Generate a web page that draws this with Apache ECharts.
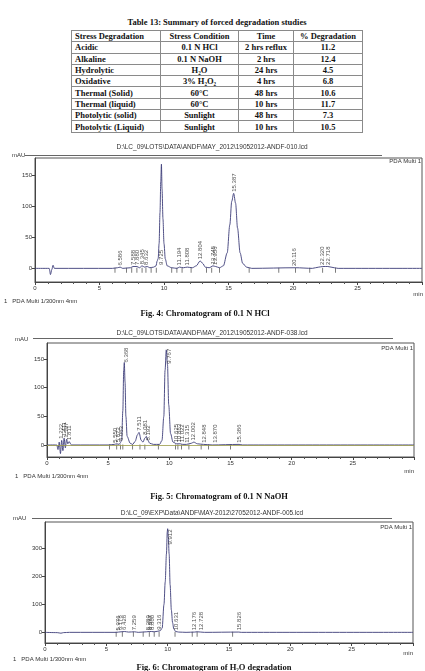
<!DOCTYPE html>
<html>
<head>
<meta charset="utf-8">
<script src="https://cdn.jsdelivr.net/npm/echarts@6/dist/echarts.min.js"></script>
<style>
  body { margin: 0; background: #fff; }
  #chart { position: absolute; left: 0; top: 0; width: 425px; height: 671px; }
  #tblTitle { position: absolute; left: 0; top: 17px; width: 434px; text-align: center;
    font: bold 8.5px "Liberation Serif", "Times New Roman", serif; color: #111; }
  #tbl { position: absolute; left: 71px; top: 30px; width: 291px; border-collapse: collapse;
    table-layout: fixed; font: bold 8.5px "Liberation Serif", "Times New Roman", serif; color: #111; }
  #tbl td, #tbl th { border: 1px solid #8a8a8a; height: 10.3px; padding: 0 3px; line-height: 10px;
    white-space: nowrap; overflow: hidden; }
  #tbl th { font-weight: bold; text-align: center; }
  #tbl td { text-align: center; }
  #tbl td:first-child, #tbl th:first-child { text-align: left; }
</style>
</head>
<body>
<div id="tblTitle">Table 13: Summary of forced degradation studies</div>
<table id="tbl">
  <colgroup><col style="width:89px"><col style="width:78px"><col style="width:55px"><col style="width:69px"></colgroup>
  <thead><tr><th>Stress Degradation</th><th>Stress Condition</th><th>Time</th><th>% Degradation</th></tr></thead>
  <tbody id="tblBody"></tbody>
</table>
<div id="chart"></div>
<script>
// ---- table ----
const stressTypes = ['Acidic', 'Alkaline', 'Hydrolytic', 'Oxidative', 'Thermal (Solid)',
  'Thermal (liquid)', 'Photolytic (solid)', 'Photolytic (Liquid)'];
const stressConditions = ['0.1 N HCl', '0.1 N NaOH', 'H₂O', '3% H₂O₂', '60°C', '60°C', 'Sunlight', 'Sunlight'];
const stressTimes = ['2 hrs reflux', '2 hrs', '24 hrs', '4 hrs', '48 hrs', '10 hrs', '48 hrs', '10 hrs'];
const degradation = ['11.2', '12.4', '4.5', '6.8', '10.6', '11.7', '7.3', '10.5'];

// ---- Fig. 4 trace ----
const tr1Time = [0, 1.1, 1.2, 1.3, 1.4, 1.5, 6.0, 6.4, 6.6, 6.8, 7.4, 7.6, 7.9, 8.1, 8.3, 8.5, 8.7, 8.9, 9.2,
  9.38, 9.47, 9.55, 9.62, 9.69, 9.75, 9.8, 9.85, 9.92, 10.0, 10.1, 10.25, 10.6, 11.0, 11.2, 11.5, 11.8, 12.2, 12.5,
  12.8, 13.0, 13.2, 13.5, 13.8, 14.0, 14.3, 14.6, 14.9, 15.1, 15.25, 15.4, 15.55, 15.7, 15.9, 16.1, 16.4,
  16.8, 20.2, 21.5, 22.0, 22.3, 22.7, 23.2, 23.5, 30];
const tr1Abs = [0, 0, -10, -2, 5, 0, 0, 1, 2, 0, 1, 3, 3, 1, 4, 2, 3, 1, 2,
  4, 12, 16, 40, 90, 140, 168, 128, 80, 40, 15, 4, 1, 0, 2, 1, 2, 1, 4,
  12, 8, 2, 1, 4, 3, 1, 4, 25, 70, 108, 121, 105, 65, 25, 8, 2,
  0, 1, 0, 2, 3, 3, 1, 0, 0];
const lab1Time = [6.6, 7.6, 7.9, 8.3, 8.65, 9.82, 11.2, 11.8, 12.8, 13.8, 14.0, 15.45, 20.1, 22.3, 22.75];
const lab1Abs = [3, 4, 4, 5, 4, 4, 3, 3, 13, 5, 4, 122, 2, 4, 4];
const lab1Text = ['6.586', '7.588', '7.880', '8.345', '8.632', '9.725', '11.194', '11.808', '12.804',
  '13.745', '13.956', '15.387', '20.116', '22.320', '22.718'];
const mark1Time = [6.2, 7.1, 7.5, 7.9, 8.3, 8.6, 9.0, 9.4, 10.6, 11.0, 11.4, 12.1, 13.3, 13.7, 14.3,
  16.6, 18.9, 20.2, 21.3, 22.3, 23.3];

// ---- Fig. 5 trace ----
const tr2Time = [0, 0.8, 0.9, 1.0, 1.1, 1.2, 1.3, 1.4, 1.5, 1.6, 1.7, 1.8, 2.0, 5.0, 5.5, 5.7, 5.9, 6.0,
  6.1, 6.2, 6.27, 6.32, 6.38, 6.45, 6.55, 6.8, 7.0, 7.2, 7.4, 7.52, 7.7, 7.85, 8.0, 8.12, 8.25, 8.4, 8.7,
  9.2, 9.4, 9.55, 9.65, 9.75, 9.85, 9.95, 10.1, 10.3, 10.6, 10.9, 11.1, 11.4, 11.8, 12.0, 12.3, 12.8,
  13.5, 15.7, 16, 30];
const tr2Abs = [0, 0, -8, 5, -15, 8, -10, 12, -5, 10, 2, 6, 0, 0, 1, 2, 1, 4,
  8, 60, 130, 144, 110, 50, 15, 3, 1, 6, 18, 22, 8, 5, 12, 15, 8, 3, 1,
  1, 8, 50, 130, 166, 140, 70, 20, 5, 2, 2, 1, 1, 3, 5, 2, 1,
  0, 1, 0, 0];
const lab2Time = [1.2, 1.4, 1.6, 1.8, 5.55, 5.85, 6.05, 6.5, 7.52, 8.05, 8.3, 10.0, 10.6, 10.85, 11.1,
  11.5, 12.0, 12.85, 13.8, 15.7];
const lab2Abs = [9, 13, 11, 7, 2, 3, 5, 142, 23, 16, 6, 140, 3, 3, 3, 2, 6, 2, 2, 2];
const lab2Text = ['1.222', '1.411', '1.597', '1.811', '5.550', '5.872', '6.063', '6.368', '7.511', '8.081',
  '8.192', '9.767', '10.625', '10.863', '11.022', '11.315', '12.002', '12.848', '13.870', '15.386'];
const mark2Time = [5.1, 5.7, 6.0, 6.2, 7.0, 7.6, 8.0, 9.1, 10.5, 10.7, 11.0, 11.6, 12.6, 13.2, 15.0];

// ---- Fig. 6 trace ----
const tr3Time = [0, 1.0, 1.3, 1.5, 2, 5.8, 6.0, 6.2, 6.5, 6.8, 7.3, 7.6, 8.3, 8.5, 8.7, 8.9, 9.2, 9.4,
  9.55, 9.7, 9.8, 9.9, 9.97, 10.0, 10.05, 10.12, 10.2, 10.3, 10.4, 10.5, 10.65, 10.9, 11.5, 12.2, 12.4, 12.7,
  13, 15.8, 16, 30];
const tr3Abs = [0, -1, -3, -1, 0, 0, 1, 2, 3, 1, 2, 0, 2, 3, 3, 2, 4, 6,
  15, 100, 180, 280, 360, 370, 340, 280, 170, 80, 35, 12, 3, 1, 0, 1, 2, 1,
  0, 1, 0, 0];
const lab3Time = [5.98, 6.18, 6.45, 7.3, 8.4, 8.57, 8.75, 9.3, 10.2, 10.7, 12.2, 12.75, 15.83];
const lab3Abs = [3, 4, 5, 4, 4, 5, 5, 6, 310, 4, 4, 4, 4];
const lab3Text = ['5.976', '6.176', '6.428', '7.259', '8.389', '8.567', '8.800', '9.316', '9.912',
  '10.631', '12.176', '12.728', '15.826'];
const mark3Time = [5.8, 6.3, 7.2, 8.0, 8.5, 8.9, 9.3, 10.6, 12.0, 12.4, 15.3];

const filePaths = ['D:\\LC_09\\LOTS\\DATA\\ANDF\\MAY_2012\\19052012-ANDF-010.lcd',
  'D:\\LC_09\\LOTS\\DATA\\ANDF\\MAY_2012\\19052012-ANDF-038.lcd',
  'D:\\LC_09\\EXP\\Data\\ANDF\\MAY-2012\\27052012-ANDF-005.lcd'];
const captions = ['Fig. 4: Chromatogram of 0.1 N HCl', 'Fig. 5: Chromatogram of 0.1 N NaOH',
  'Fig. 6: Chromatogram of H₂O degradation'];

// fill table
const body = document.getElementById('tblBody');
stressTypes.forEach((s, i) => {
  const tr = document.createElement('tr');
  [s, stressConditions[i], stressTimes[i], degradation[i]].forEach(v => {
    const td = document.createElement('td');
    td.textContent = v;
    tr.appendChild(td);
  });
  body.appendChild(tr);
});

const sans = '"Liberation Sans", Arial, sans-serif';
const serif = '"Liberation Serif", "Times New Roman", serif';
const zip = (a, b, c) => a.map((v, i) => c ? [v, b[i], c[i]] : [v, b[i]]);

// grid boxes [left, top, width, height], y range, y ticks
const panels = [
  { box: [35, 158, 388, 124], ymin: -22, ymax: 178, yt: [0, 50, 100, 150],
    tr: zip(tr1Time, tr1Abs), lab: zip(lab1Time, lab1Abs, lab1Text), mk: mark1Time },
  { box: [47, 343, 367, 114], ymin: -21, ymax: 178, yt: [0, 50, 100, 150],
    tr: zip(tr2Time, tr2Abs), lab: zip(lab2Time, lab2Abs, lab2Text), mk: mark2Time, olive: true },
  { box: [45, 522, 368, 121], ymin: -38, ymax: 394, yt: [0, 100, 200, 300],
    tr: zip(tr3Time, tr3Abs), lab: zip(lab3Time, lab3Abs, lab3Text), mk: mark3Time }
];

const grid = [], xAxis = [], yAxis = [], series = [];
panels.forEach((p, i) => {
  grid.push({ left: p.box[0], top: p.box[1], width: p.box[2], height: p.box[3],
    show: true, borderColor: '#555', borderWidth: 1, backgroundColor: 'transparent' });
  xAxis.push({
    gridIndex: i, type: 'value', min: 0, max: 30, interval: 5,
    axisLine: { onZero: false, lineStyle: { color: '#444', width: 1 } },
    axisTick: { length: 3, lineStyle: { color: '#444' } },
    minorTick: { show: true, splitNumber: 5, length: 2, lineStyle: { color: '#555' } },
    axisLabel: { fontSize: 6, color: '#333', fontFamily: sans, margin: 3,
      formatter: v => (v === 30 ? '' : v) },
    splitLine: { show: false }
  });
  yAxis.push({
    gridIndex: i, type: 'value', min: p.ymin, max: p.ymax,
    axisLine: { show: true, lineStyle: { color: '#444', width: 1 } },
    axisTick: { show: true, length: 3, customValues: p.yt, lineStyle: { color: '#444' } },
    axisLabel: { fontSize: 6, color: '#333', fontFamily: sans, margin: 3, customValues: p.yt },
    splitLine: { show: false }
  });
  const line = {
    type: 'line', xAxisIndex: i, yAxisIndex: i, data: p.tr, showSymbol: false,
    smooth: 0.3, smoothMonotone: 'x', lineStyle: { color: '#3c3c78', width: 0.9 },
    silent: true, animation: false, z: 3
  };
  if (p.olive) {
    line.markLine = { silent: true, symbol: 'none', label: { show: false },
      lineStyle: { color: '#9a9a48', width: 0.8, type: 'solid' }, data: [{ yAxis: 0 }] };
  }
  series.push(line);
  series.push({
    type: 'scatter', xAxisIndex: i, yAxisIndex: i, data: p.mk.map(t => [t, 0]),
    symbol: 'rect', symbolSize: [0.8, 5], symbolOffset: [0, 2],
    itemStyle: { color: '#333' }, silent: true, animation: false, z: 2
  });
  series.push({
    type: 'scatter', xAxisIndex: i, yAxisIndex: i, data: p.lab, symbolSize: 0,
    silent: true, animation: false, z: 4,
    label: { show: true, position: 'top', distance: 1, rotate: 90, align: 'left',
      verticalAlign: 'middle', fontSize: 6, fontFamily: sans, color: '#222',
      formatter: q => q.data[2] }
  });
});

const txt = (x, y, text, o) => Object.assign({ type: 'text', x, y, silent: true,
  style: Object.assign({ text, fill: '#333', font: '6px ' + sans, textVerticalAlign: 'middle' }, o || {}) });
const hline = (x1, x2, y) => ({ type: 'line', silent: true, shape: { x1, y1: y, x2, y2: y },
  style: { stroke: '#666', lineWidth: 1 } });

const graphic = [
  // Fig 4
  txt(212, 147, filePaths[0], { textAlign: 'center', font: '6.5px ' + sans }),
  txt(12, 155, 'mAU'), hline(25, 382, 155.5),
  txt(421, 161, 'PDA Multi 1', { textAlign: 'right' }),
  txt(423, 294, 'min', { textAlign: 'right' }),
  txt(4, 301, '1   PDA Multi 1/300nm 4nm'),
  txt(205, 314, captions[0], { textAlign: 'center', font: 'bold 8.5px ' + serif, fill: '#111' }),
  // Fig 5
  txt(212, 333, filePaths[1], { textAlign: 'center', font: '6.5px ' + sans }),
  txt(15, 339, 'mAU'), hline(33, 393, 338.5),
  txt(413, 348, 'PDA Multi 1', { textAlign: 'right' }),
  txt(414, 471, 'min', { textAlign: 'right' }),
  txt(15, 476, '1   PDA Multi 1/300nm 4nm'),
  txt(219, 497, captions[1], { textAlign: 'center', font: 'bold 8.5px ' + serif, fill: '#111' }),
  // Fig 6
  txt(212, 513, filePaths[2], { textAlign: 'center', font: '6.5px ' + sans }),
  txt(13, 518, 'mAU'), hline(32, 392, 518.5),
  txt(412, 527, 'PDA Multi 1', { textAlign: 'right' }),
  txt(413, 653, 'min', { textAlign: 'right' }),
  txt(13, 659, '1   PDA Multi 1/300nm 4nm'),
  txt(214, 668, captions[2], { textAlign: 'center', font: 'bold 8.5px ' + serif, fill: '#111' })
];

const myChart = echarts.init(document.getElementById('chart'));
myChart.setOption({ animation: false, grid, xAxis, yAxis, series, graphic });
</script>
</body>
</html>
